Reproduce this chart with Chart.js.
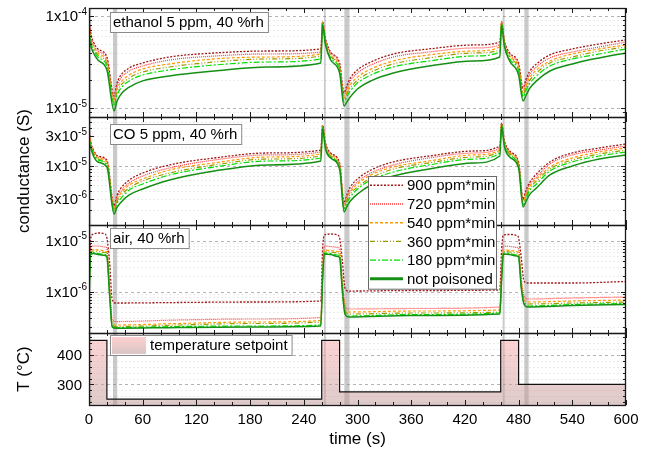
<!DOCTYPE html>
<html>
<head>
<meta charset="utf-8">
<title>Sensor poisoning - conductance</title>
<script src="https://cdn.jsdelivr.net/npm/chart.js@4.4.1/dist/chart.umd.min.js"></script>
<style>
  body { margin: 0; background: #fff; }
  canvas { display: block; }
</style>
</head>
<body>
<canvas id="chart" width="651" height="453"></canvas>
<script>
// time bases (s)
const timeGas = [0, 2, 5, 10, 20, 28, 31, 35, 45, 60, 90, 140, 200, 259, 261, 264, 270, 280, 285, 288, 292, 300, 315, 340, 380, 430, 459, 461, 464, 470, 480, 485, 488, 492, 500, 515, 540, 570, 600];
const timeAir = [0, 2, 5, 10, 18, 20, 23, 26, 30, 100, 180, 259, 261, 263, 270, 278, 280, 283, 286, 290, 360, 459, 461, 463, 470, 478, 480, 483, 486, 490, 540, 600];

const doseLabels = ['900 ppm*min', '720 ppm*min', '540 ppm*min', '360 ppm*min', '180 ppm*min', 'not poisoned'];

// ethanol 5 ppm, 40 %rh (S)
const ethanol900 = [9.51e-5, 6.53e-5, 5.21e-5, 4.38e-5, 3.58e-5, 1.35e-5, 1.82e-5, 2.23e-5, 2.72e-5, 3.08e-5, 3.58e-5, 3.96e-5, 4.16e-5, 4.38e-5, 8.61e-5, 5.77e-5, 4.06e-5, 3.08e-5, 1.46e-5, 1.73e-5, 2.12e-5, 2.59e-5, 3.16e-5, 3.86e-5, 4.38e-5, 4.84e-5, 5.21e-5, 8.61e-5, 5.48e-5, 3.96e-5, 3.08e-5, 1.65e-5, 2.01e-5, 2.46e-5, 3.01e-5, 3.77e-5, 4.38e-5, 4.96e-5, 5.48e-5];
const ethanol720 = [8.83e-5, 6.22e-5, 4.96e-5, 4.16e-5, 3.41e-5, 1.25e-5, 1.69e-5, 2.07e-5, 2.52e-5, 2.86e-5, 3.32e-5, 3.67e-5, 3.86e-5, 4.06e-5, 8.61e-5, 5.62e-5, 3.96e-5, 2.93e-5, 1.38e-5, 1.61e-5, 1.97e-5, 2.40e-5, 2.93e-5, 3.58e-5, 4.06e-5, 4.49e-5, 4.84e-5, 8.61e-5, 5.35e-5, 3.86e-5, 2.93e-5, 1.57e-5, 1.87e-5, 2.28e-5, 2.79e-5, 3.50e-5, 4.06e-5, 4.60e-5, 5.21e-5];
const ethanol540 = [8.19e-5, 5.77e-5, 4.72e-5, 3.96e-5, 3.16e-5, 1.19e-5, 1.57e-5, 1.87e-5, 2.28e-5, 2.65e-5, 3.01e-5, 3.41e-5, 3.58e-5, 3.86e-5, 8.39e-5, 5.48e-5, 3.77e-5, 2.79e-5, 1.28e-5, 1.49e-5, 1.78e-5, 2.17e-5, 2.65e-5, 3.24e-5, 3.77e-5, 4.16e-5, 4.60e-5, 8.39e-5, 5.21e-5, 3.67e-5, 2.79e-5, 1.46e-5, 1.73e-5, 2.12e-5, 2.59e-5, 3.24e-5, 3.86e-5, 4.38e-5, 4.84e-5];
const ethanol360 = [7.59e-5, 5.48e-5, 4.49e-5, 3.77e-5, 3.01e-5, 1.11e-5, 1.46e-5, 1.73e-5, 2.12e-5, 2.46e-5, 2.79e-5, 3.16e-5, 3.41e-5, 3.67e-5, 8.39e-5, 5.35e-5, 3.67e-5, 2.72e-5, 1.22e-5, 1.42e-5, 1.65e-5, 2.01e-5, 2.46e-5, 3.01e-5, 3.50e-5, 3.96e-5, 4.27e-5, 8.39e-5, 5.09e-5, 3.58e-5, 2.65e-5, 1.38e-5, 1.65e-5, 1.97e-5, 2.40e-5, 3.08e-5, 3.58e-5, 4.16e-5, 4.60e-5];
const ethanol180 = [7.04e-5, 5.21e-5, 4.27e-5, 3.58e-5, 2.86e-5, 1.05e-5, 1.35e-5, 1.61e-5, 1.97e-5, 2.28e-5, 2.59e-5, 2.93e-5, 3.16e-5, 3.41e-5, 8.19e-5, 5.21e-5, 3.50e-5, 2.59e-5, 1.16e-5, 1.32e-5, 1.53e-5, 1.87e-5, 2.28e-5, 2.79e-5, 3.24e-5, 3.67e-5, 4.06e-5, 8.19e-5, 4.96e-5, 3.41e-5, 2.52e-5, 1.32e-5, 1.53e-5, 1.82e-5, 2.23e-5, 2.86e-5, 3.41e-5, 3.86e-5, 4.38e-5];
const ethanolRef = [6.06e-5, 4.72e-5, 3.96e-5, 3.32e-5, 2.59e-5, 9.28e-6, 1.16e-5, 1.38e-5, 1.69e-5, 1.97e-5, 2.23e-5, 2.52e-5, 2.79e-5, 3.08e-5, 7.98e-5, 4.96e-5, 3.32e-5, 2.40e-5, 1.05e-5, 1.16e-5, 1.32e-5, 1.61e-5, 1.97e-5, 2.40e-5, 2.86e-5, 3.24e-5, 3.58e-5, 7.98e-5, 4.72e-5, 3.24e-5, 2.28e-5, 1.19e-5, 1.35e-5, 1.61e-5, 1.97e-5, 2.52e-5, 3.01e-5, 3.50e-5, 3.96e-5];

// CO 5 ppm, 40 %rh (S)
const co900 = [4.01e-5, 2.40e-5, 1.79e-5, 1.44e-5, 1.245e-5, 2.32e-6, 3.34e-6, 4.31e-6, 5.99e-6, 7.74e-6, 1.04e-5, 1.34e-5, 1.61e-5, 1.79e-5, 4.47e-5, 2.40e-5, 1.61e-5, 1.12e-5, 2.59e-6, 3.47e-6, 4.64e-6, 6.22e-6, 8.64e-6, 1.16e-5, 1.44e-5, 1.73e-5, 2.08e-5, 4.81e-5, 2.59e-5, 1.73e-5, 1.16e-5, 2.99e-6, 4.01e-6, 5.37e-6, 7.46e-6, 1.16e-5, 1.61e-5, 1.93e-5, 2.23e-5];
const co720 = [3.59e-5, 2.32e-5, 1.73e-5, 1.39e-5, 1.20e-5, 2.24e-6, 3.11e-6, 3.87e-6, 5.37e-6, 6.94e-6, 9.30e-6, 1.245e-5, 1.50e-5, 1.67e-5, 4.31e-5, 2.32e-5, 1.55e-5, 1.08e-5, 2.40e-6, 3.22e-6, 4.16e-6, 5.57e-6, 7.74e-6, 1.04e-5, 1.34e-5, 1.61e-5, 1.93e-5, 4.64e-5, 2.49e-5, 1.67e-5, 1.12e-5, 2.89e-6, 3.73e-6, 4.99e-6, 6.69e-6, 1.08e-5, 1.50e-5, 1.79e-5, 2.08e-5];
const co540 = [3.34e-5, 2.23e-5, 1.67e-5, 1.34e-5, 1.16e-5, 2.08e-6, 2.89e-6, 3.59e-6, 4.99e-6, 6.22e-6, 8.64e-6, 1.12e-5, 1.39e-5, 1.55e-5, 4.31e-5, 2.23e-5, 1.50e-5, 1.04e-5, 2.32e-6, 2.99e-6, 3.87e-6, 5.18e-6, 7.20e-6, 9.64e-6, 1.20e-5, 1.50e-5, 1.79e-5, 4.64e-5, 2.40e-5, 1.61e-5, 1.08e-5, 2.68e-6, 3.47e-6, 4.64e-6, 6.22e-6, 9.64e-6, 1.34e-5, 1.67e-5, 1.93e-5];
const co360 = [3.10e-5, 2.15e-5, 1.61e-5, 1.29e-5, 1.08e-5, 2.00e-6, 2.68e-6, 3.34e-6, 4.48e-6, 5.78e-6, 7.74e-6, 1.04e-5, 1.29e-5, 1.44e-5, 4.16e-5, 2.15e-5, 1.44e-5, 1.00e-5, 2.16e-6, 2.78e-6, 3.59e-6, 4.64e-6, 6.45e-6, 8.96e-6, 1.12e-5, 1.39e-5, 1.73e-5, 4.47e-5, 2.32e-5, 1.55e-5, 1.04e-5, 2.59e-6, 3.22e-6, 4.31e-6, 5.78e-6, 8.96e-6, 1.245e-5, 1.55e-5, 1.79e-5];
const co180 = [2.78e-5, 2.08e-5, 1.55e-5, 1.245e-5, 1.04e-5, 1.86e-6, 2.49e-6, 2.99e-6, 4.16e-6, 5.18e-6, 7.20e-6, 9.64e-6, 1.20e-5, 1.34e-5, 4.16e-5, 2.08e-5, 1.39e-5, 9.64e-6, 2.08e-6, 2.59e-6, 3.22e-6, 4.31e-6, 5.99e-6, 8.03e-6, 1.04e-5, 1.29e-5, 1.61e-5, 4.47e-5, 2.23e-5, 1.50e-5, 1.00e-5, 2.40e-6, 2.99e-6, 4.01e-6, 5.18e-6, 8.33e-6, 1.16e-5, 1.44e-5, 1.67e-5];
const coRef = [2.40e-5, 1.93e-5, 1.44e-5, 1.16e-5, 9.64e-6, 1.73e-6, 2.16e-6, 2.59e-6, 3.47e-6, 4.31e-6, 5.99e-6, 8.33e-6, 1.04e-5, 1.20e-5, 4.01e-5, 1.93e-5, 1.34e-5, 8.96e-6, 1.86e-6, 2.24e-6, 2.78e-6, 3.59e-6, 4.99e-6, 6.94e-6, 8.96e-6, 1.12e-5, 1.44e-5, 4.31e-5, 2.08e-5, 1.39e-5, 9.30e-6, 2.24e-6, 2.68e-6, 3.47e-6, 4.48e-6, 7.20e-6, 1.00e-5, 1.29e-5, 1.50e-5];

// air, 40 %rh (S)
const air900 = [2.66e-6, 1.13e-5, 1.353e-5, 1.416e-5, 1.353e-5, 1.13e-5, 3.82e-6, 6.87e-7, 6.00e-7, 6.14e-7, 6.28e-7, 6.57e-7, 6.57e-6, 1.294e-5, 1.353e-5, 1.294e-5, 1.13e-5, 4.18e-6, 1.18e-6, 1.03e-6, 1.055e-6, 1.08e-6, 6.57e-6, 1.294e-5, 1.323e-5, 1.265e-5, 1.13e-5, 4.58e-6, 1.62e-6, 1.48e-6, 1.48e-6, 1.585e-6];
const air720 = [1.353e-6, 7.52e-6, 7.87e-6, 7.87e-6, 7.52e-6, 7.19e-6, 1.353e-6, 2.79e-7, 2.60e-7, 2.79e-7, 2.915e-7, 3.12e-7, 2.66e-6, 7.87e-6, 7.70e-6, 7.36e-6, 7.03e-6, 1.696e-6, 5.48e-7, 4.58e-7, 4.68e-7, 5.01e-7, 2.66e-6, 7.87e-6, 7.70e-6, 7.36e-6, 7.03e-6, 1.856e-6, 8.23e-7, 7.19e-7, 7.52e-7, 7.87e-7];
const air540 = [1.08e-6, 6.57e-6, 6.72e-6, 6.57e-6, 6.28e-6, 6.00e-6, 1.13e-6, 2.326e-7, 2.224e-7, 2.38e-7, 2.546e-7, 2.724e-7, 2.125e-6, 6.57e-6, 6.43e-6, 6.14e-6, 5.87e-6, 1.48e-6, 4.79e-7, 4.00e-7, 4.18e-7, 4.38e-7, 2.125e-6, 6.57e-6, 6.43e-6, 6.14e-6, 5.87e-6, 1.55e-6, 7.19e-7, 6.28e-7, 6.57e-7, 6.87e-7];
const air360 = [9.87e-7, 6.14e-6, 6.28e-6, 6.14e-6, 5.87e-6, 5.61e-6, 1.03e-6, 2.175e-7, 2.078e-7, 2.224e-7, 2.38e-7, 2.546e-7, 1.942e-6, 6.14e-6, 6.00e-6, 5.74e-6, 5.49e-6, 1.353e-6, 4.38e-7, 3.65e-7, 3.82e-7, 4.00e-7, 1.942e-6, 6.14e-6, 6.00e-6, 5.74e-6, 5.49e-6, 1.416e-6, 6.57e-7, 5.74e-7, 6.00e-7, 6.28e-7];
const air180 = [8.62e-7, 5.74e-6, 5.87e-6, 5.61e-6, 5.36e-6, 5.01e-6, 9.01e-7, 2.078e-7, 1.986e-7, 2.078e-7, 2.126e-7, 2.224e-7, 1.775e-6, 5.74e-6, 5.61e-6, 5.24e-6, 5.01e-6, 1.13e-6, 3.82e-7, 3.34e-7, 3.57e-7, 3.82e-7, 1.775e-6, 5.74e-6, 5.61e-6, 5.24e-6, 5.01e-6, 1.236e-6, 6.00e-7, 5.24e-7, 5.61e-7, 5.87e-7];
const airRef = [8.23e-7, 5.49e-6, 5.61e-6, 5.36e-6, 5.13e-6, 4.79e-6, 8.62e-7, 2.032e-7, 1.916e-7, 1.986e-7, 2.032e-7, 2.126e-7, 1.696e-6, 5.49e-6, 5.36e-6, 4.90e-6, 4.68e-6, 1.08e-6, 3.65e-7, 3.19e-7, 3.41e-7, 3.65e-7, 1.696e-6, 5.49e-6, 5.36e-6, 5.01e-6, 4.79e-6, 1.18e-6, 5.74e-7, 5.01e-7, 5.36e-7, 5.61e-7];

// temperature setpoint (°C)
const tempTimes = [0, 20, 260, 280, 460, 480, 600];
const tempSetpoint = [450, 250, 450, 275, 450, 300, 300];

// grey marker bars (s)
const markerBars = [[0, 2.5], [26.8, 31.5], [262.5, 264.5], [285.3, 291], [462.2, 464.4], [486.4, 491.2]];

// labelled ticks per panel
const ethanolTickLabels = [1e-4, 1e-5];
const coTickLabels = [3e-5, 1e-5, 3e-6];
const airTickLabels = [1e-5, 1e-6];
const tempTickLabels = [300, 400];

const FONT = "'Liberation Sans', Arial, sans-serif";
Chart.defaults.font.family = FONT;
Chart.defaults.color = '#000';

const styles = [
  { color: '#a01818', dash: [2, 1.5], width: 1.3 },
  { color: '#ff3a3a', dash: [1, 1], width: 1.2 },
  { color: '#ff9900', dash: [3, 2], width: 1.2 },
  { color: '#9a9a00', dash: [5, 2, 1, 2, 1, 2], width: 1.2 },
  { color: '#00e000', dash: [6, 2, 2, 2], width: 1.2 },
  { color: '#159015', dash: [], width: 1.5 }
];

function series(axis, times, groups) {
  return groups.map((vals, i) => ({
    label: doseLabels[i],
    yAxisID: axis,
    data: times.map((t, k) => ({ x: t, y: vals[k] })),
    borderColor: styles[i].color,
    borderDash: styles[i].dash,
    borderWidth: styles[i].width,
    pointRadius: 0,
    cubicInterpolationMode: 'monotone',
    fill: false,
    order: 10 - i
  }));
}

const panels = [
  { id: 'yE', labels: ethanolTickLabels, note: 'ethanol 5 ppm, 40 %rh', noteTop: 4 },
  { id: 'yC', labels: coTickLabels, note: 'CO 5 ppm, 40 %rh', noteTop: 7 },
  { id: 'yA', labels: airTickLabels, note: 'air, 40 %rh', noteTop: 3 },
  { id: 'yT', labels: tempTickLabels, note: 'temperature setpoint', noteTop: 2, swatch: true }
];

function logTicks(scale, labels) {
  const out = [];
  const lo = Math.floor(Math.log10(scale.min));
  const hi = Math.ceil(Math.log10(scale.max));
  for (let e = lo; e <= hi; e++) {
    for (let k = 1; k <= 9; k++) {
      const v = k * Math.pow(10, e);
      if (v >= scale.min && v <= scale.max) {
        const labelled = labels.some(l => Math.abs(l - v) / v < 1e-6);
        out.push({ v, grid: k === 1, major: labelled || k === 1 });
      }
    }
  }
  return out;
}

function linTicks(scale) {
  const out = [];
  for (let v = Math.ceil(scale.min / 20) * 20; v <= scale.max; v += 20) {
    out.push({ v, grid: v % 100 === 0, major: v % 100 === 0 });
  }
  return out;
}

function drawPowerLabel(ctx, v, xr, y) {
  const e = Math.floor(Math.log10(v) + 1e-9);
  const m = Math.round(v / Math.pow(10, e));
  const base = m + 'x10';
  const sup = String(e);
  ctx.font = '15px ' + FONT;
  const wb = ctx.measureText(base).width;
  ctx.font = '10px ' + FONT;
  const ws = ctx.measureText(sup).width;
  ctx.textAlign = 'left';
  ctx.textBaseline = 'middle';
  ctx.font = '15px ' + FONT;
  ctx.fillText(base, xr - ws - wb, y + 1);
  ctx.font = '10px ' + FONT;
  ctx.fillText(sup, xr - ws, y - 4);
}

function tempGradient(ctx, top, bottom, alpha) {
  const g = ctx.createLinearGradient(0, top, 0, bottom);
  g.addColorStop(0, 'rgba(255,170,170,' + alpha + ')');
  g.addColorStop(1, 'rgba(190,150,150,' + alpha + ')');
  return g;
}

const panelDecor = {
  id: 'panelDecor',
  beforeDatasetsDraw(chart) {
    const { ctx, chartArea: a, scales } = chart;
    ctx.save();
    panels.forEach(p => {
      const s = scales[p.id];
      const ticks = s.type === 'logarithmic' ? logTicks(s, p.labels) : linTicks(s);
      ticks.forEach(t => {
        const y = Math.round(s.getPixelForValue(t.v)) + 0.5;
        ctx.beginPath();
        ctx.lineWidth = 1;
        ctx.strokeStyle = t.grid ? '#b4b4b4' : '#ececec';
        ctx.setLineDash(t.grid ? [3, 3] : [2, 2]);
        ctx.moveTo(a.left, y);
        ctx.lineTo(a.right, y);
        ctx.stroke();
      });
    });
    ctx.setLineDash([]);
    ctx.fillStyle = 'rgba(128,128,128,0.42)';
    const xs = scales.x;
    markerBars.forEach(([t0, t1]) => {
      const x0 = xs.getPixelForValue(t0);
      const x1 = xs.getPixelForValue(t1);
      ctx.fillRect(x0, a.top, x1 - x0, a.bottom - a.top);
    });
    ctx.restore();
  },
  afterDatasetsDraw(chart) {
    const { ctx, chartArea: a, scales } = chart;
    const xs = scales.x;
    ctx.save();
    ctx.setLineDash([]);
    panels.forEach(p => {
      const s = scales[p.id];
      const top = Math.round(s.top);
      const bottom = Math.round(s.bottom);
      ctx.strokeStyle = '#1a1a1a';
      ctx.lineWidth = 1;
      ctx.beginPath();
      for (let t = xs.min; t <= xs.max; t += 20) {
        const x = Math.round(xs.getPixelForValue(t)) + 0.5;
        const len = t % 60 === 0 ? 5 : 3;
        ctx.moveTo(x, top);
        ctx.lineTo(x, top + len);
        ctx.moveTo(x, bottom);
        ctx.lineTo(x, bottom - len);
      }
      const ticks = s.type === 'logarithmic' ? logTicks(s, p.labels) : linTicks(s);
      ticks.forEach(t => {
        const y = Math.round(s.getPixelForValue(t.v)) + 0.5;
        const len = t.major ? 5 : 3;
        ctx.moveTo(a.left, y);
        ctx.lineTo(a.left + len, y);
        ctx.moveTo(a.right, y);
        ctx.lineTo(a.right - len, y);
      });
      ctx.stroke();
      ctx.lineWidth = 1.3;
      ctx.strokeRect(Math.round(a.left) + 0.5, top + 0.5, Math.round(a.right - a.left) - 1, bottom - top);

      // tick labels
      ctx.fillStyle = '#000';
      p.labels.forEach(v => {
        const y = s.getPixelForValue(v);
        if (s.type === 'logarithmic') {
          drawPowerLabel(ctx, v, a.left - 2, y);
        } else {
          ctx.font = '15px ' + FONT;
          ctx.textAlign = 'right';
          ctx.textBaseline = 'middle';
          ctx.fillText(String(v), a.left - 7, y + 1);
        }
      });

      // panel note box
      ctx.font = '15px ' + FONT;
      const tw = ctx.measureText(p.note).width;
      const bx = a.left + 21;
      const by = top + p.noteTop;
      const sw = p.swatch ? 37 : 0;
      const bw = tw + 7 + sw;
      const bh = 20;
      ctx.fillStyle = '#fff';
      ctx.fillRect(bx, by, bw, bh);
      ctx.strokeStyle = '#8a8a8a';
      ctx.lineWidth = 1;
      ctx.strokeRect(bx + 0.5, by + 0.5, bw, bh);
      if (p.swatch) {
        ctx.fillStyle = tempGradient(ctx, by + 2, by + bh - 2, 0.55);
        ctx.fillRect(bx + 2, by + 2, 34, bh - 3);
      }
      ctx.fillStyle = '#000';
      ctx.textAlign = 'left';
      ctx.textBaseline = 'middle';
      ctx.fillText(p.note, bx + 3 + sw, by + bh / 2 + 1);
    });

    // series legend
    const sets = chart.data.datasets.filter(d => d.yAxisID === 'yE');
    const lx = a.left + 279;
    const ly = a.top + 168;
    const rowH = 18.7;
    const lw = 128;
    const lh = rowH * sets.length + 0.5;
    ctx.fillStyle = '#fff';
    ctx.fillRect(lx, ly, lw, lh);
    ctx.strokeStyle = '#6a6a6a';
    ctx.lineWidth = 1;
    ctx.strokeRect(lx + 0.5, ly + 0.5, lw, lh);
    sets.forEach((d, i) => {
      const cy = ly + 9.3 + i * rowH;
      ctx.beginPath();
      ctx.strokeStyle = d.borderColor;
      ctx.setLineDash(d.borderDash);
      ctx.lineWidth = d.borderDash.length ? 1.4 : 3;
      ctx.moveTo(lx + 2, cy);
      ctx.lineTo(lx + 35, cy);
      ctx.stroke();
      ctx.setLineDash([]);
      ctx.fillStyle = '#000';
      ctx.font = '15px ' + FONT;
      ctx.textAlign = 'left';
      ctx.textBaseline = 'middle';
      ctx.fillText(d.label, lx + 39, cy + 1);
    });
    ctx.restore();
  }
};

const yBase = {
  type: 'logarithmic',
  position: 'left',
  stack: 'panels',
  ticks: { display: false },
  grid: { display: false },
  border: { display: false },
  afterFit: s => { s.width = 89; }
};

const datasets = [
  {
    label: 'temperature setpoint',
    yAxisID: 'yT',
    data: tempTimes.map((t, i) => ({ x: t, y: tempSetpoint[i] })),
    stepped: 'before',
    borderColor: '#111',
    borderWidth: 1.2,
    pointRadius: 0,
    fill: 'start',
    backgroundColor: c => {
      const s = c.chart.scales.yT;
      if (!s || !Number.isFinite(s.top) || !Number.isFinite(s.bottom) || s.bottom <= s.top) {
        return 'rgba(240,170,170,0.5)';
      }
      return tempGradient(c.chart.ctx, s.top, s.bottom, 0.5);
    },
    order: 20
  },
  ...series('yE', timeGas, [ethanol900, ethanol720, ethanol540, ethanol360, ethanol180, ethanolRef]),
  ...series('yC', timeGas, [co900, co720, co540, co360, co180, coRef]),
  ...series('yA', timeAir, [air900, air720, air540, air360, air180, airRef])
];

new Chart(document.getElementById('chart'), {
  type: 'line',
  data: { datasets },
  options: {
    responsive: false,
    animation: false,
    events: [],
    layout: { padding: { left: 0, right: 25, top: 8, bottom: 0 } },
    plugins: { legend: { display: false }, tooltip: { enabled: false } },
    scales: {
      x: {
        type: 'linear',
        min: 0,
        max: 600,
        ticks: { stepSize: 60, font: { size: 15 }, padding: 6, maxRotation: 0 },
        grid: { display: false, drawTicks: false },
        border: { display: false },
        title: { display: true, text: 'time (s)', font: { size: 17 }, padding: { top: 0, bottom: 3 } },
        afterFit: s => { s.height = 48; }
      },
      yE: { ...yBase, min: 7.98e-6, max: 1.22e-4, stackWeight: 109, weight: 4 },
      yC: {
        ...yBase, min: 1.156e-6, max: 6.0e-5, stackWeight: 108, weight: 3,
        title: { display: true, text: 'conductance (S)', font: { size: 17 }, padding: { top: 14, bottom: 0 } }
      },
      yA: { ...yBase, min: 1.55e-7, max: 2.03e-5, stackWeight: 108, weight: 2 },
      yT: {
        ...yBase, type: 'linear', min: 230, max: 475, stackWeight: 72, weight: 1,
        title: { display: true, text: 'T (°C)', font: { size: 17 }, padding: { top: 14, bottom: 0 } }
      }
    }
  },
  plugins: [panelDecor]
});
</script>
</body>
</html>
